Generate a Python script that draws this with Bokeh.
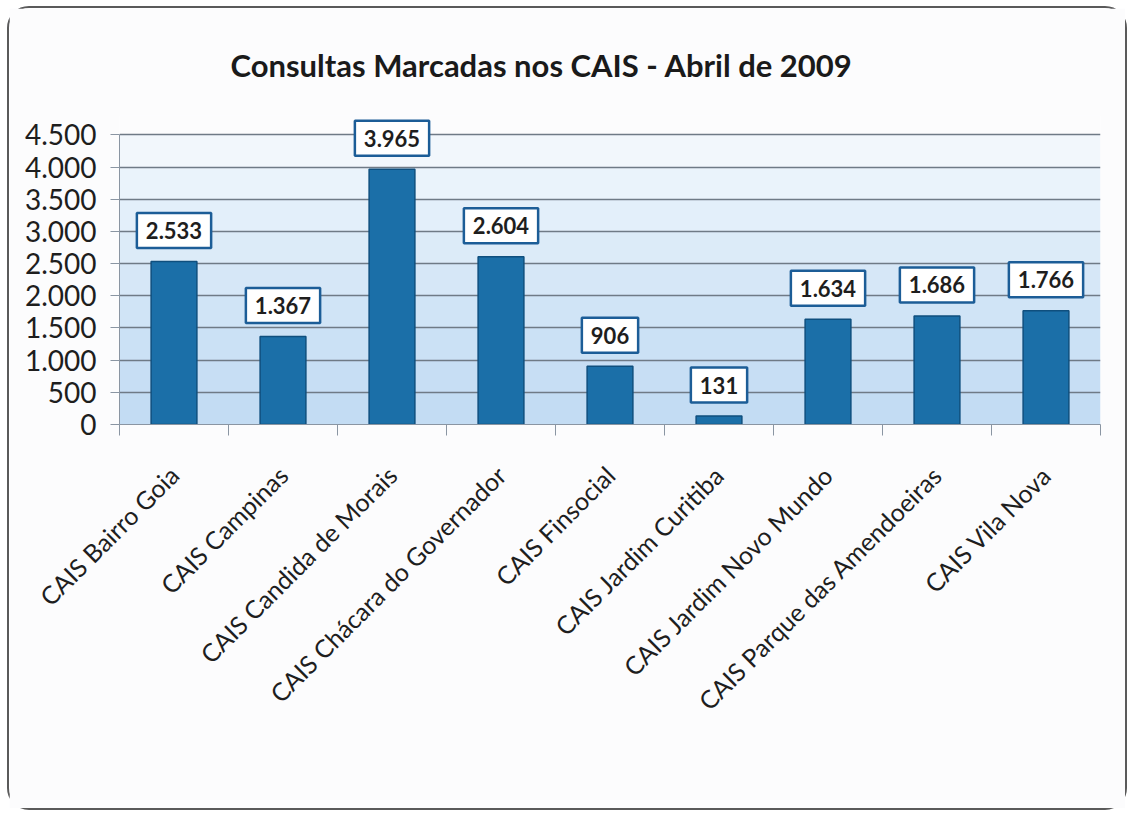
from math import pi
from bokeh.plotting import figure
from bokeh.models import Range1d, FixedTicker, Label, BoxAnnotation
from bokeh.embed import file_html
from bokeh.resources import INLINE

title_text = "Consultas Marcadas nos CAIS - Abril de 2009"
categories = [
    "CAIS Bairro Goia",
    "CAIS Campinas",
    "CAIS Candida de Morais",
    "CAIS Chácara do Governador",
    "CAIS Finsocial",
    "CAIS Jardim Curitiba",
    "CAIS Jardim Novo Mundo",
    "CAIS Parque das Amendoeiras",
    "CAIS Vila Nova",
]
values = [2533, 1367, 3965, 2604, 906, 131, 1634, 1686, 1766]
value_labels = ["2.533", "1.367", "3.965", "2.604", "906", "131", "1.634", "1.686", "1.766"]
y_ticks = [0, 500, 1000, 1500, 2000, 2500, 3000, 3500, 4000, 4500]
y_tick_labels = ["0", "500", "1.000", "1.500", "2.000", "2.500", "3.000", "3.500", "4.000", "4.500"]

# background band shades, bottom -> top (imitates the gradient fill)
band_colors = ["#c3dcf3", "#c7def4", "#cbe1f5", "#d0e4f6", "#d6e7f7",
               "#dcebf8", "#e3effa", "#eaf3fb", "#f2f7fc"]

FONT = "Lato"
n = len(categories)
xs = [i + 0.5 for i in range(n)]

p = figure(
    width=1120, height=804,
    x_range=Range1d(0, n), y_range=Range1d(0, 4800),
    output_backend="svg", toolbar_location=None,
    min_border_left=110, min_border_right=29,
    min_border_top=107, min_border_bottom=388,
)
p.styles = {"border": "2px solid #5a5a5a", "border-radius": "22px",
            "box-sizing": "border-box", "margin-left": "7px", "margin-top": "6px"}
p.background_fill_color = "#fcfcfd"
p.border_fill_color = "#fcfcfd"
p.outline_line_color = None

for i, c in enumerate(band_colors):
    p.add_layout(BoxAnnotation(bottom=y_ticks[i], top=y_ticks[i + 1],
                               fill_color=c, fill_alpha=1.0, line_color=None,
                               level="image"))

p.title.text = title_text
p.title.text_font = FONT
p.title.text_font_style = "bold"
p.title.text_font_size = "31px"
p.title.text_color = "#1a1a1a"
p.title.align = "left"
p.title.offset = 111
p.title.standoff = 64

p.vbar(x=xs, top=values, width=0.42, bottom=0,
       fill_color="#1b6fa8", line_color="#0f4f7e", line_width=1.5)

for xv, yv, lab in zip(xs, values, value_labels):
    p.add_layout(Label(
        x=xv, y=yv, text=lab, y_offset=31,
        text_align="center", text_baseline="middle",
        text_font=FONT, text_font_style="bold", text_font_size="22px",
        text_color="#1e1e1e",
        background_fill_color="white", border_line_color="#1c5d97",
        border_line_width=2.5, padding=dict(left=9, right=9, top=9, bottom=9),
    ))

# y axis
p.yaxis.ticker = FixedTicker(ticks=y_ticks)
p.yaxis.bounds = (y_ticks[0], y_ticks[-1])
p.yaxis.major_label_overrides = {t: l for t, l in zip(y_ticks, y_tick_labels)}
p.yaxis.major_label_text_font = FONT
p.yaxis.major_label_text_font_size = "28px"
p.yaxis.major_label_text_color = "#1e1e1e"
p.yaxis.axis_line_color = "#8a95a2"
p.yaxis.major_tick_line_color = "#8a95a2"
p.yaxis.major_tick_out = 9
p.yaxis.major_tick_in = 0
p.yaxis.minor_tick_line_color = None
p.yaxis.major_label_standoff = 14

# x axis
p.xaxis.ticker = FixedTicker(ticks=xs, minor_ticks=list(range(n + 1)))
p.xaxis.major_label_overrides = {x: c for x, c in zip(xs, categories)}
p.xaxis.major_label_orientation = pi / 4
p.xaxis.major_label_text_font = FONT
p.xaxis.major_label_text_font_size = "25px"
p.xaxis.major_label_text_color = "#1e1e1e"
p.xaxis.major_tick_line_color = None
p.xaxis.minor_tick_line_color = "#8a95a2"
p.xaxis.minor_tick_out = 11
p.xaxis.minor_tick_in = 0
p.xaxis.axis_line_color = "#8a95a2"
p.xaxis.major_label_standoff = 35

p.xgrid.grid_line_color = None
p.ygrid.ticker = FixedTicker(ticks=y_ticks)
p.ygrid.grid_line_color = "#6f7a86"
p.ygrid.grid_line_width = 1.5

open("out.html", "w").write(file_html(p, INLINE))
